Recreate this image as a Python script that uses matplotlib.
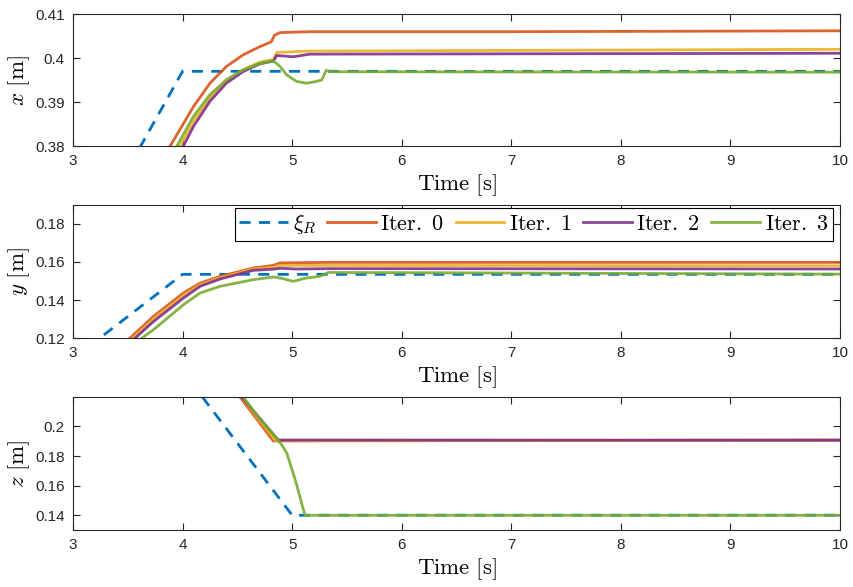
import matplotlib
matplotlib.use('Agg')
import matplotlib.pyplot as plt
from matplotlib.ticker import FuncFormatter

plt.rcParams['mathtext.fontset'] = 'cm'
plt.rcParams['font.family'] = ['Liberation Sans', 'DejaVu Sans']

# MATLAB default colour order
c_ref, c0, c1, c2, c3 = '#0072BD', '#D95319', '#EDB120', '#7E2F8E', '#77AC30'

# ---- x position ----
x_ref_t = [3.0, 4.0, 10.0]
x_ref = [0.3526, 0.397, 0.397]
x0_t = [3.6, 3.886, 4.10, 4.25, 4.40, 4.55, 4.705, 4.81, 4.84, 4.89, 5.16, 7.0, 10.0]
x0 = [0.369, 0.38, 0.389, 0.3943, 0.3981, 0.4007, 0.4026, 0.4037, 0.4052, 0.4058, 0.406,
      0.406, 0.4062]
x1_t = [3.7, 3.976, 4.10, 4.25, 4.40, 4.55, 4.705, 4.83, 4.86, 5.16, 10.0]
x1 = [0.37, 0.38, 0.3857, 0.391, 0.3948, 0.3973, 0.3991, 0.3997, 0.4013, 0.4016, 0.402]
x2_t = [3.75, 4.007, 4.10, 4.25, 4.40, 4.55, 4.705, 4.827, 4.86, 5.01, 5.16, 10.0]
x2 = [0.37, 0.38, 0.3845, 0.3902, 0.3943, 0.3969, 0.3987, 0.3993, 0.4006, 0.4003, 0.4009,
      0.4011]
x3_t = [3.7, 3.947, 4.10, 4.25, 4.40, 4.55, 4.705, 4.827, 4.89, 4.95, 5.04, 5.13, 5.20,
        5.27, 5.31, 5.37, 10.0]
x3 = [0.368, 0.38, 0.3868, 0.3917, 0.3951, 0.3973, 0.3988, 0.3994, 0.3981, 0.3962, 0.3947,
      0.3943, 0.3946, 0.395, 0.3972, 0.3969, 0.3968]

# ---- y position ----
y_ref_t = [3.0, 4.0, 10.0]
y_ref = [0.1092, 0.1535, 0.1535]
y0_t = [3.3, 3.52, 3.734, 4.007, 4.16, 4.34, 4.645, 4.827, 4.89, 5.34, 10.0]
y0 = [0.109, 0.12, 0.1314, 0.1437, 0.1489, 0.1524, 0.1568, 0.1582, 0.1595, 0.1598, 0.1598]
y1_t = [3.3, 3.545, 3.734, 4.007, 4.16, 4.34, 4.645, 4.827, 4.89, 10.0]
y1 = [0.108, 0.12, 0.13, 0.1424, 0.148, 0.1517, 0.1562, 0.1572, 0.1582, 0.158]
y2_t = [3.3, 3.567, 3.734, 4.007, 4.16, 4.34, 4.645, 4.827, 4.89, 5.04, 5.34, 10.0]
y2 = [0.107, 0.12, 0.1287, 0.141, 0.1472, 0.151, 0.1556, 0.1562, 0.1567, 0.1563, 0.1565,
      0.1563]
y3_t = [3.35, 3.628, 3.734, 4.007, 4.16, 4.34, 4.645, 4.827, 4.9, 5.01, 5.13, 5.25, 5.33,
        10.0]
y3 = [0.108, 0.12, 0.1244, 0.1375, 0.1437, 0.1472, 0.1507, 0.1521, 0.1515, 0.1498, 0.1516,
      0.1524, 0.1545, 0.1536]

# ---- z position ----
z_ref_t = [3.0, 5.0, 10.0]
z_ref = [0.335, 0.14, 0.14]
z0_t = [4.3, 4.524, 4.828, 10.0]
z0 = [0.241, 0.2198, 0.1902, 0.1908]
z1_t = [4.3, 4.535, 4.85, 10.0]
z1 = [0.242, 0.2198, 0.1905, 0.1906]
z2_t = [4.3, 4.54, 4.874, 10.0]
z2 = [0.242, 0.2198, 0.1908, 0.1907]
z3_t = [4.3, 4.555, 4.70, 4.828, 4.90, 4.95, 4.99, 5.04, 5.08, 5.117, 10.0]
z3 = [0.246, 0.2198, 0.2055, 0.1946, 0.188, 0.1822, 0.173, 0.161, 0.150, 0.14, 0.14]

panels = [
    ('x', (x_ref_t, x_ref), [(x0_t, x0), (x1_t, x1), (x2_t, x2), (x3_t, x3)],
     (0.38, 0.41), [0.38, 0.39, 0.40, 0.41]),
    ('y', (y_ref_t, y_ref), [(y0_t, y0), (y1_t, y1), (y2_t, y2), (y3_t, y3)],
     (0.12, 0.19), [0.12, 0.14, 0.16, 0.18]),
    ('z', (z_ref_t, z_ref), [(z0_t, z0), (z1_t, z1), (z2_t, z2), (z3_t, z3)],
     (0.13, 0.22), [0.14, 0.16, 0.18, 0.20]),
]
iter_colors = [c0, c1, c2, c3]
iter_labels = [r'$\mathrm{Iter.\ %d}$' % i for i in range(4)]

fig = plt.figure(figsize=(8.54, 5.87), dpi=100)
boxes = [(0.0855, 0.751, 0.898, 0.225),
         (0.0855, 0.424, 0.898, 0.227),
         (0.0855, 0.097, 0.898, 0.227)]

axc = '#262626'
for k, (name, ref, iters, ylim, yticks) in enumerate(panels):
    ax = fig.add_axes(boxes[k])
    ax.plot(ref[0], ref[1], color=c_ref, lw=2, dashes=(4, 3), label=r'$\xi_R$')
    for (t, v), col, lab in zip(iters, iter_colors, iter_labels):
        ax.plot(t, v, color=col, lw=2, alpha=0.9, label=lab)
    ax.set_xlim(3, 10)
    ax.set_ylim(*ylim)
    ax.set_xticks(range(3, 11))
    ax.set_yticks(yticks)
    ax.yaxis.set_major_formatter(FuncFormatter(lambda v, p: '%g' % round(v, 3)))
    ax.tick_params(direction='in', top=True, right=True, length=5, width=0.8,
                   colors=axc, labelsize=11, pad=6)
    for sp in ax.spines.values():
        sp.set_color(axc)
        sp.set_linewidth(0.8)
    ax.set_xlabel(r'$\mathrm{Time\ [s]}$', fontsize=16.5, labelpad=3)
    ax.set_ylabel(r'$%s\ [\mathrm{m}]$' % name, fontsize=16.5, labelpad=2)
    if k == 1:
        leg = ax.legend(loc='upper right', bbox_to_anchor=(0.991, 0.975), ncol=5,
                        fontsize=16, frameon=True, fancybox=False, framealpha=1,
                        edgecolor='black', borderaxespad=0, handlelength=2.2,
                        handletextpad=0.2, columnspacing=0.5, borderpad=0.2)
        leg.get_frame().set_linewidth(0.8)

fig.savefig('out.png', dpi=100)
